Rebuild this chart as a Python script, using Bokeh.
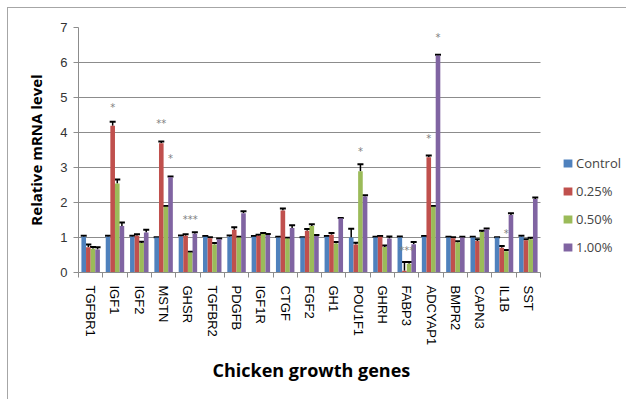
from bokeh.plotting import figure
from bokeh.models import (Range1d, FixedTicker, Whisker, TeeHead, ColumnDataSource,
                          Legend, LegendItem, Grid, Title)
from bokeh.transform import dodge
from bokeh.core.properties import value
from bokeh.embed import file_html
from bokeh.resources import INLINE

genes = ["TGFBR1", "IGF1", "IGF2", "MSTN", "GHSR", "TGFBR2", "PDGFB", "IGF1R", "CTGF",
         "FGF2", "GH1", "POU1F1", "GHRH", "FABP3", "ADCYAP1", "BMPR2", "CAPN3", "IL1B", "SST"]
series_names = ["Control", "0.25%", "0.50%", "1.00%"]
series_colors = ["#4F81BD", "#C0504D", "#9BBB59", "#8064A2"]

control = [1.02, 1.02, 1.02, 1.00, 1.03, 1.02, 1.02, 1.02, 1.00, 1.00, 1.02, 1.00, 1.00, 1.00, 1.02, 1.00, 1.00, 1.00, 1.02]
p025 = [0.72, 4.19, 1.05, 3.69, 1.05, 0.98, 1.22, 1.05, 1.77, 1.19, 1.08, 0.80, 1.02, 0.05, 3.29, 0.98, 0.90, 0.71, 0.92]
p050 = [0.68, 2.54, 0.84, 1.88, 0.57, 0.80, 1.00, 1.10, 0.97, 1.33, 0.83, 2.89, 0.73, 0.25, 1.88, 0.86, 1.16, 0.61, 0.95]
p100 = [0.66, 1.33, 1.14, 2.72, 1.11, 0.95, 1.69, 1.07, 1.27, 1.04, 1.55, 2.17, 0.97, 0.81, 6.20, 1.00, 1.23, 1.64, 2.10]

err_control = [0.03, 0.03, 0.03, 0.01, 0.03, 0.02, 0.04, 0.02, 0.02, 0.01, 0.02, 0.25, 0.02, 0.03, 0.02, 0.02, 0.02, 0.01, 0.03]
err_025 = [0.08, 0.12, 0.04, 0.05, 0.04, 0.03, 0.07, 0.03, 0.06, 0.05, 0.05, 0.05, 0.02, 0.25, 0.05, 0.03, 0.05, 0.05, 0.03]
err_050 = [0.05, 0.12, 0.04, 0.02, 0.02, 0.04, 0.02, 0.03, 0.02, 0.05, 0.04, 0.20, 0.04, 0.05, 0.02, 0.03, 0.03, 0.03, 0.04]
err_100 = [0.06, 0.10, 0.08, 0.02, 0.04, 0.02, 0.06, 0.03, 0.08, 0.03, 0.01, 0.04, 0.06, 0.06, 0.02, 0.02, 0.03, 0.05, 0.04]

# significance marks: gene, bar slot (0..3, 1.5 = group centre), height, text
star_gene = ["IGF1", "MSTN", "MSTN", "GHSR", "POU1F1", "FABP3", "ADCYAP1", "ADCYAP1", "IL1B"]
star_slot = [1, 1, 3, 2, 2, 1.5, 1, 3, 2]
star_y = [4.72, 4.26, 3.26, 1.52, 3.46, 0.62, 3.83, 6.72, 1.12]
star_text = ["*", "**", "*", "***", "*", "***", "*", "*", "*"]

yticks = [0, 1, 2, 3, 4, 5, 6, 7]

values = [control, p025, p050, p100]
errors = [err_control, err_025, err_050, err_100]
n = len(genes)
bar_w = 0.19
offsets = [(k - 1.5) * bar_w for k in range(4)]

data = {"x": [i + 0.5 for i in range(n)]}
for k in range(4):
    data[f"v{k}"] = values[k]
    data[f"u{k}"] = [a + b for a, b in zip(values[k], errors[k])]
src = ColumnDataSource(data)

# layout: plot area spans 78..540 px for the genes, legend lives to its right
FRAME_L, FRAME_R, CANVAS_R = 78, 540, 627
x_end = n * (CANVAS_R - FRAME_L) / (FRAME_R - FRAME_L)

GRAY = "#8c8c8c"
p = figure(width=619, height=392, output_backend="svg", toolbar_location=None,
           x_range=Range1d(0, x_end), y_range=Range1d(0, 7),
           min_border_left=70, min_border_right=0, min_border_top=19, min_border_bottom=128,
           outline_line_color=None, background_fill_color="white", border_fill_color="white")
p.styles = {"margin-left": "7px", "margin-top": "7px",
            "border-left": "1px solid #a6a6a6", "border-top": "1px solid #a6a6a6"}

items = []
for k in range(4):
    r = p.vbar(x=dodge("x", offsets[k], range=p.x_range), top=f"v{k}", width=bar_w,
               source=src, fill_color=series_colors[k], line_color=None)
    items.append(LegendItem(label=series_names[k], renderers=[r]))
    w = Whisker(source=src, base=dodge("x", offsets[k], range=p.x_range),
                lower=f"v{k}", upper=f"u{k}", line_color="black", line_width=1.5,
                lower_head=None, upper_head=TeeHead(size=6, line_color="black", line_width=2))
    p.add_layout(w)

sx = [genes.index(g) + 0.5 + (s - 1.5) * bar_w for g, s in zip(star_gene, star_slot)]
ssrc = ColumnDataSource(dict(x=sx, y=star_y, t=star_text))
p.text(x="x", y="y", text="t", source=ssrc, text_color="#7f7f7f", text_font_size="10px",
       text_align="center", text_baseline="middle", text_font=value("DejaVu Sans"))

# axes
p.xaxis.bounds = (0, n)
p.xaxis.ticker = FixedTicker(ticks=[i + 0.5 for i in range(n)], minor_ticks=list(range(n + 1)))
p.xaxis.major_label_overrides = {i + 0.5: g for i, g in enumerate(genes)}
p.xaxis.major_label_orientation = "vertical"
p.xaxis.major_tick_line_color = None
p.xaxis.major_tick_out = 0
p.xaxis.major_tick_in = 0
p.xaxis.minor_tick_line_color = GRAY
p.xaxis.minor_tick_out = 5
p.xaxis.minor_tick_in = 0
p.xaxis.major_label_standoff = 8
p.xaxis.major_label_text_font = "Liberation Sans"
p.xaxis.major_label_text_font_size = "13px"
p.xaxis.major_label_text_color = "black"
p.xaxis.axis_line_color = GRAY

xtitle = Title(text="Chicken growth genes", align="left", offset=134, standoff=14,
               text_font="Open Sans", text_font_style="bold", text_font_size="18px",
               text_color="black")
p.add_layout(xtitle, "below")

p.yaxis.ticker = FixedTicker(ticks=yticks)
p.yaxis.minor_tick_line_color = None
p.yaxis.major_tick_line_color = GRAY
p.yaxis.major_tick_out = 5
p.yaxis.major_tick_in = 0
p.yaxis.axis_line_color = GRAY
p.yaxis.major_label_standoff = 6
p.yaxis.major_label_text_font = "Liberation Sans"
p.yaxis.major_label_text_font_size = "13px"
p.yaxis.major_label_text_color = "#333333"
p.yaxis.axis_label = "Relative mRNA level"
p.yaxis.axis_label_text_font = "Open Sans"
p.yaxis.axis_label_text_font_style = "bold"
p.yaxis.axis_label_text_font_size = "15px"
p.yaxis.axis_label_text_color = "black"
p.yaxis.axis_label_standoff = 11

p.xgrid.grid_line_color = None
p.ygrid.ticker = FixedTicker(ticks=yticks)
p.ygrid.grid_line_color = GRAY
p.ygrid.grid_line_width = 1
if "cross_bounds" in Grid.properties():
    p.ygrid.cross_bounds = (0, n)

legend = Legend(items=items, location=(484, 16), padding=0, margin=0, spacing=10,
                glyph_width=11, glyph_height=10, label_height=10, label_standoff=3,
                label_text_font="Open Sans", label_text_font_size="13px",
                border_line_color=None, background_fill_alpha=0)
p.add_layout(legend, "center")

open("out.html", "w").write(file_html(p, INLINE))
